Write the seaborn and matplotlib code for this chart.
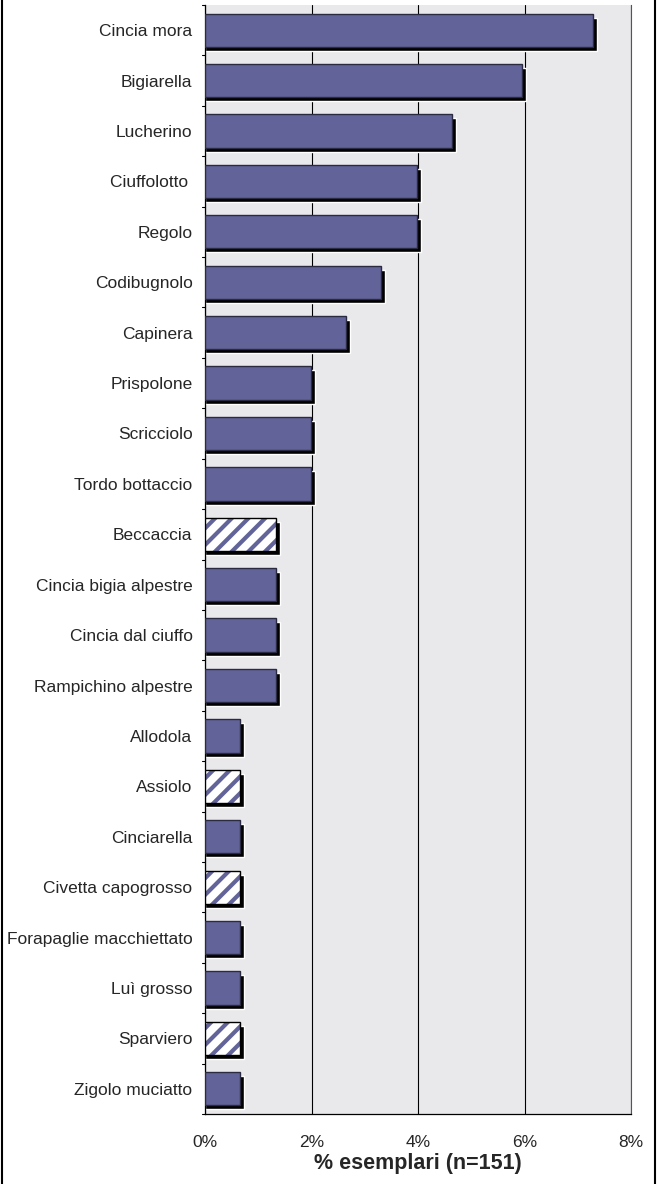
# Ringing captures by species, share of specimens (n=151)
import numpy as np
import pandas as pd
import matplotlib
matplotlib.use("Agg")
import matplotlib.pyplot as plt
import seaborn as sns
from matplotlib.lines import Line2D
from matplotlib.patches import Rectangle

species = ["Cincia mora", "Bigiarella", "Lucherino", "Ciuffolotto ", "Regolo",
           "Codibugnolo", "Capinera", "Prispolone", "Scricciolo", "Tordo bottaccio",
           "Beccaccia", "Cincia bigia alpestre", "Cincia dal ciuffo",
           "Rampichino alpestre", "Allodola", "Assiolo", "Cinciarella",
           "Civetta capogrosso", "Forapaglie macchiettato", "Luì grosso",
           "Sparviero", "Zigolo muciatto"]
counts = [11, 9, 7, 6, 6, 5, 4, 3, 3, 3, 2, 2, 2, 2, 1, 1, 1, 1, 1, 1, 1, 1]
hatched = ["Beccaccia", "Assiolo", "Civetta capogrosso", "Sparviero"]
n_total = 151

df = pd.DataFrame({"species": species, "pct": np.array(counts) / n_total * 100})

bar_col = "#626499"
sns.set_style("white")
plt.rcParams["font.family"] = ["Liberation Sans", "DejaVu Sans"]
plt.rcParams["hatch.linewidth"] = 3.0

fig = plt.figure(figsize=(6.59, 11.84), dpi=100)
ax = fig.add_axes([205 / 659, 1 - 1114 / 1184, 426 / 659, 1109 / 1184])
ax.set_facecolor("#e9e9eb")

# shadow bars (offset black copies)
bh = 0.66
y = np.arange(len(species))
off_x = 4 / 426 * 8
off_y = 4 / 50.4
ax.barh(y + off_y, df["pct"] + off_x, height=bh, left=0, color="black", zorder=2)

sns.barplot(data=df, y="species", x="pct", orient="h", color=bar_col,
            width=bh, edgecolor="#2a2a40", linewidth=1.0, saturation=1,
            ax=ax, zorder=3)
for patch, name in zip(ax.patches[len(species):], species):
    if name in hatched:
        patch.set_facecolor("white")
        patch.set_edgecolor(bar_col)
        patch.set_linewidth(0)
        patch.set_hatch("//")
        x0, y0 = patch.get_xy()
        ax.add_patch(Rectangle((x0, y0), patch.get_width(), patch.get_height(),
                               fill=False, edgecolor="black", lw=1.0, zorder=4))

ax.set_xlim(0, 8)
ax.set_ylim(len(species) - 0.5, -0.5)
ax.set_xticks([0, 2, 4, 6, 8])
ax.set_xticklabels(["0%", "2%", "4%", "6%", "8%"], fontsize=12.5)
ax.set_yticks(y)
ax.set_yticklabels(species, fontsize=12.5)
ax.xaxis.grid(True, color="black", linewidth=0.8)
ax.set_axisbelow(True)
ax.set_ylabel("")
ax.set_xlabel("% esemplari (n=151)", fontsize=15.5, fontweight="bold", labelpad=2)

# tick marks between categories
ax.tick_params(axis="y", length=0, pad=9)
ax.tick_params(axis="x", length=4, direction="out", color="black", pad=11)
for b in np.arange(-0.5, len(species), 1):
    ax.plot([-0.05, 0], [b, b], color="black", lw=0.8, clip_on=False)

for s in ["left", "bottom"]:
    ax.spines[s].set_color("black")
    ax.spines[s].set_linewidth(0.9)
ax.spines["top"].set_visible(False)
ax.spines["right"].set_color("#555555")

# outer frame lines
fig.add_artist(Line2D([1.5 / 659, 1.5 / 659], [0, 1], color="black", lw=1.5))
fig.add_artist(Line2D([654.5 / 659, 654.5 / 659], [0, 1], color="black", lw=1.5))

plt.savefig("out.png", dpi=100)
